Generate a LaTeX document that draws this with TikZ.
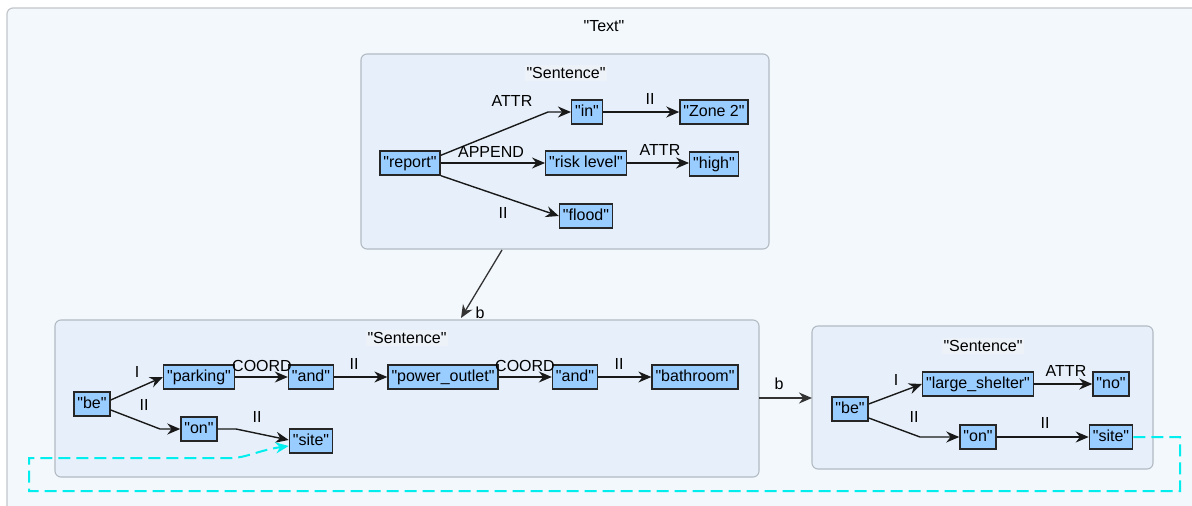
\documentclass[tikz,border=0pt]{standalone}
\usepackage{fontspec}
\setmainfont{Liberation Sans}[Ligatures=TeXOff]
\usetikzlibrary{arrows.meta,calc}
\definecolor{outerfill}{HTML}{F3F8FD}
\definecolor{outerline}{HTML}{C2C6CA}
\definecolor{sentfill}{HTML}{E7F0FA}
\definecolor{sentline}{HTML}{B2BAC2}
\definecolor{titlefill}{HTML}{EDF2F8}
\definecolor{nodefill}{HTML}{99CCFF}
\definecolor{linkcyan}{HTML}{00EEEE}
\begin{document}
\begin{tikzpicture}[x=1pt,y=-1pt,
  font=\fontsize{16}{19}\selectfont,
  outerbox/.style={draw=outerline, fill=outerfill, line width=1.2pt, rounded corners=6pt},
  sentbox/.style={draw=sentline, fill=sentfill, line width=1.1pt, rounded corners=6pt},
  title/.style={fill=titlefill, inner sep=2pt},
  word/.style={draw=black!85, fill=nodefill, line width=1.3pt, inner xsep=3.5pt, inner ysep=0pt,
    minimum height=24pt, text height=11.5pt, text depth=3.5pt},
  lab/.style={inner sep=1pt},
  edge/.style={draw=black!90, line width=1.4pt, -{Stealth[length=13pt,width=11pt]}},
  sedge/.style={draw=black!80, line width=1.3pt, -{Stealth[length=13pt,width=11pt]}},
  xref/.style={draw=linkcyan, line width=2pt, dash pattern=on 12pt off 6pt, -{Stealth[length=13pt,width=11pt]}}
]
\useasboundingbox (0,0) rectangle (1192,506);
\clip (0,0) rectangle (1192,506);

% outer box
\draw[outerbox] (7,8) rectangle (1215,530);
\node[lab] (ttext) at (604,26) {"Text"};

% sentence boxes
\draw[sentbox] (361,54) rectangle (769,249);
\coordinate (s1bot) at (502,250);
\node[title] (t1) at (566,73) {"Sentence"};
\draw[sentbox] (55,320) rectangle (759,477);
\coordinate (s2top) at (461,318);
\coordinate (s2right) at (759,398);
\node[title] (t2) at (407,338) {"Sentence"};
\draw[sentbox] (812,326) rectangle (1153,469);
\coordinate (s3left) at (812,398);
\node[title] (t3) at (983,346) {"Sentence"};

% sentence 1 nodes
\node[word] (report) at (410,163) {"report"};
\node[word] (in) at (587,112) {"in"};
\node[word] (zone) at (714,112) {"Zone 2"};
\node[word] (risk) at (586,163) {"risk level"};
\node[word] (high) at (714,164) {"high"};
\node[word] (flood) at (586,216) {"flood"};

% sentence 2 nodes
\node[word] (be2) at (92,404) {"be"};
\node[word] (parking) at (199,377) {"parking"};
\node[word] (anda) at (311,377) {"and"};
\node[word] (power) at (443,377) {"power\_outlet"};
\node[word] (andb) at (575,377) {"and"};
\node[word] (bath) at (695,377) {"bathroom"};
\node[word] (on2) at (199,429) {"on"};
\node[word] (site2) at (311,441) {"site"};

% sentence 3 nodes
\node[word] (be3) at (850,409) {"be"};
\node[word] (shelter) at (978,384) {"large\_shelter"};
\node[word] (no) at (1111,384) {"no"};
\node[word] (on3) at (978,437) {"on"};
\node[word] (site3) at (1111,437) {"site"};

% sentence 1 edges
\coordinate (c1) at (548,112);
\draw[edge] ($(report.north east)+(0,5)$) -- (c1) -- (in.west);
\draw[edge] (in.east) -- (zone.west);
\draw[edge] (report.east) -- (risk.west);
\draw[edge] (risk.east) -- (high.west |- risk.east);
\draw[edge] (report.south east) -- (flood.west);
\node[lab] (l1) at (512,101) {ATTR};
\node[lab] (l2) at (650,99) {II};
\node[lab] (l3) at (491,152) {APPEND};
\node[lab] (l4) at (660,150) {ATTR};
\node[lab] (l5) at (503,213) {II};

% sentence 2 edges
\coordinate (c2) at (160,429);
\coordinate (c3) at (236,429);
\draw[edge] ($(be2.east)+(0,-4)$) -- (parking.west);
\draw[edge] ($(be2.east)+(0,6)$) -- (c2) -- (on2.west);
\draw[edge] (parking.east) -- (anda.west);
\draw[edge] (anda.east) -- (power.west);
\draw[edge] (power.east) -- (andb.west);
\draw[edge] (andb.east) -- (bath.west);
\draw[edge] (on2.east) -- (c3) -- ($(site2.west)+(0,-1)$);
\node[lab] (l6) at (137,372) {I};
\node[lab] (l7) at (262,366) {COORD};
\node[lab] (l8) at (354,364) {II};
\node[lab] (l9) at (525,366) {COORD};
\node[lab] (l10) at (619,364) {II};
\node[lab] (l11) at (144,405) {II};
\node[lab] (l12) at (257,417) {II};

% sentence 3 edges
\coordinate (c4) at (920,437);
\draw[edge] ($(be3.east)+(0,-5)$) -- (shelter.west);
\draw[edge] ($(be3.east)+(0,9)$) -- (c4) -- (on3.west);
\draw[edge] (shelter.east) -- (no.west);
\draw[edge] (on3.east) -- (site3.west);
\node[lab] (l13) at (896,380) {I};
\node[lab] (l14) at (1066,371) {ATTR};
\node[lab] (l15) at (914,417) {II};
\node[lab] (l16) at (1045,423) {II};

% sentence links
\draw[sedge] (s1bot) -- (s2top);
\node[lab] (lb1) at (480,313) {b};
\draw[sedge] (s2right) -- (s3left);
\node[lab] (lb2) at (779,384) {b};

% cross reference
\coordinate (x1) at (1180,437);
\coordinate (x2) at (1180,491);
\coordinate (x3) at (29,491);
\coordinate (x4) at (29,458);
\coordinate (x5) at (232,458);
\draw[xref] (site3.east) -- (x1) -- (x2) -- (x3) -- (x4) -- (x5)
  .. controls (245,458) and (260,450) .. ($(site2.west)+(0,5)$);
\end{tikzpicture}
\end{document}
